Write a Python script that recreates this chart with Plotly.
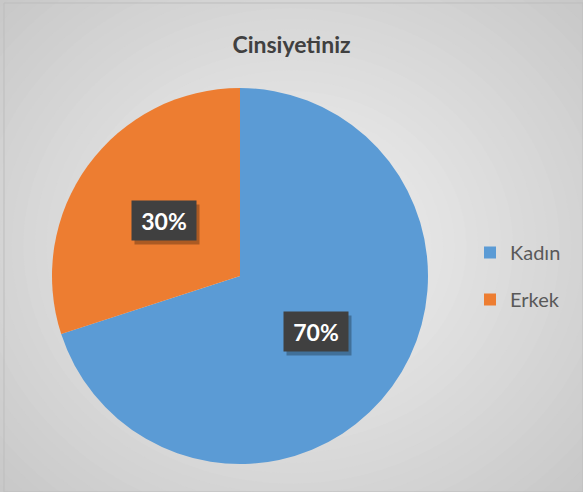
import plotly.graph_objects as go
import math

# data
labels = ['Kadın', 'Erkek']
values = [70, 30]
colors = ['#5B9BD5', '#ED7D31']
title = 'Cinsiyetiniz'

W, H = 583, 492
cx, cy, r = 240, 276, 188  # pie centre / radius in px

fig = go.Figure()

fig.add_trace(go.Pie(
    labels=labels, values=values, sort=False, direction='clockwise', rotation=0,
    marker=dict(colors=colors), textinfo='none', hoverinfo='label+percent',
    showlegend=False,
    domain=dict(x=[(cx - r) / W, (cx + r) / W], y=[1 - (cy + r) / H, 1 - (cy - r) / H]),
))

# legend entries (kept apart so the gap matches)
for lab, col in zip(labels, colors):
    fig.add_trace(go.Scatter(x=[None], y=[None], mode='markers', name=lab, legendgroup=lab,
                             marker=dict(symbol='square', size=12, color=col)))

# percentage boxes at mid-angle of each slice, half radius out
total = sum(values)
start = 0
for v in values:
    mid = math.radians(start + v / total * 360 / 2)
    start += v / total * 360
    px = cx + 0.5 * r * math.sin(mid)
    py = cy - 0.5 * r * math.cos(mid)
    txt = f'{v / total:.0%}'
    common = dict(x=px / W, y=1 - py / H, xref='paper', yref='paper', showarrow=False,
                  xanchor='center', yanchor='middle', width=54, height=29, borderpad=5)
    fig.add_annotation(text=' ', bgcolor='rgba(0,0,0,0.28)', xshift=3, yshift=-4,
                       font=dict(size=23, family='Lato'), **common)
    fig.add_annotation(text=f'<b>{txt}</b>', bgcolor='#404040',
                       font=dict(size=23, color='white', family='Lato'), **common)

# radial grey background
N = 40
shapes = []
for i in range(N):
    t = i / (N - 1)
    s = 0.78 * (1 - t)
    g = int(0xc3 + (0xf4 - 0xc3) * t)
    shapes.append(dict(type='circle', xref='paper', yref='paper', layer='below',
                       x0=0.5 - s, x1=0.5 + s, y0=0.5 - s * 1.05, y1=0.5 + s * 1.05,
                       fillcolor=f'rgb({g},{g},{g})', line=dict(width=0)))
shapes.append(dict(type='rect', xref='paper', yref='paper', layer='below',
                   x0=4 / W, x1=1, y0=0, y1=1 - 3 / H, line=dict(color='#bdbdbd', width=1)))

fig.update_layout(
    width=W, height=H,
    margin=dict(l=0, r=0, t=0, b=0),
    paper_bgcolor='#c3c3c3', plot_bgcolor='rgba(0,0,0,0)',
    shapes=shapes,
    title=dict(text=f'<b>{title}</b>', x=0.5, xanchor='center', y=1 - 45 / H, yanchor='middle',
               yref='container', font=dict(size=23, color='#404040', family='Lato')),
    xaxis=dict(visible=False), yaxis=dict(visible=False),
    legend=dict(x=470 / W, xanchor='left', y=1 - 276 / H, yanchor='middle',
                font=dict(size=20, color='#595959', family='Lato'),
                tracegroupgap=18, bgcolor='rgba(0,0,0,0)'),
)

fig.write_html('out.html', config={'displayModeBar': False},
               post_script="document.body.style.margin='0px';")
